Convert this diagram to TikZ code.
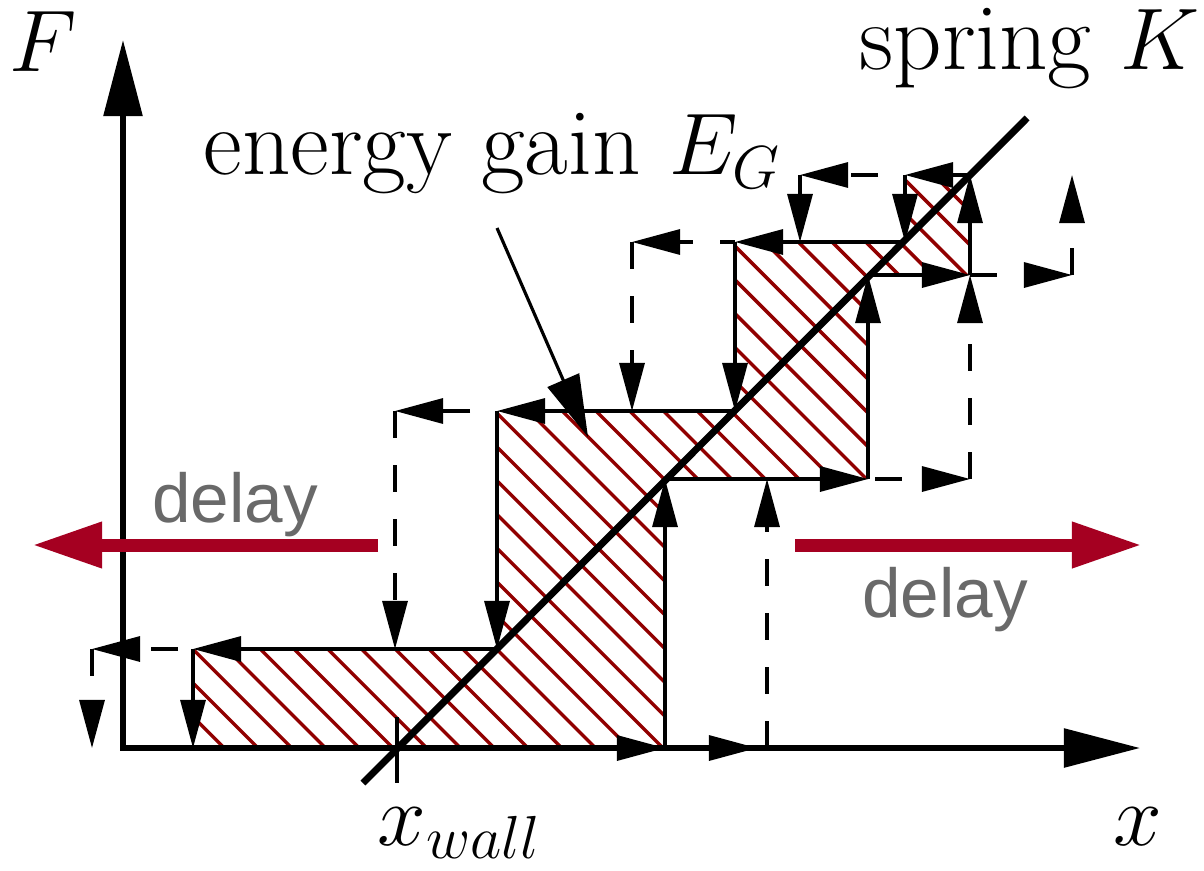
\documentclass[tikz,border=0pt]{standalone}
\usepackage{fontspec}
\newfontfamily\delayfont{Liberation Sans}
\usetikzlibrary{arrows.meta}
\definecolor{hatchred}{RGB}{145,0,0}
\definecolor{delayred}{RGB}{165,0,33}
\definecolor{delaygrey}{RGB}{105,105,105}
\tikzset{
  thinln/.style={line width=0.9pt, black},
  arr/.style={-{Triangle[length=4.8mm,width=2.5mm]}},
  dsh/.style={thinln, dash pattern=on 7.68pt off 7.68pt},
  axisln/.style={line width=1.6pt, black},
  springln/.style={line width=2pt, black},
  hatch/.style={line width=1pt, hatchred},
  delayarr/.style={line width=3.7pt, delayred, -{Triangle[length=7mm,width=4.3mm]}},
  lbl/.style={font=\fontsize{27}{32}\selectfont, inner sep=0pt},
  dlbl/.style={font=\delayfont\fontsize{19.7}{24}\selectfont, text=delaygrey, inner sep=0pt},
}
\begin{document}
\begin{tikzpicture}[x=0.01cm, y=-0.01cm]
\useasboundingbox (0,0) rectangle (1204,870);
% staircase corners
\coordinate (a0) at (193,748);
\coordinate (a1) at (193,649);
\coordinate (b1) at (497,649);
\coordinate (b2) at (497,411);
\coordinate (c2) at (735,411);
\coordinate (c3) at (735,242);
\coordinate (d3) at (905,242);
\coordinate (d4) at (905,175);
\coordinate (e4) at (970,175);
\coordinate (e3) at (970,275);
\coordinate (f3) at (868,275);
\coordinate (f2) at (868,479);
\coordinate (g2) at (665,479);
\coordinate (g0) at (665,748);
% hatching
\begin{scope}
\clip (a0) -- (a1) -- (b1) -- (b2) -- (c2) -- (c3) -- (d3) -- (d4) -- (e4) -- (e3) -- (f3) -- (f2) -- (g2) -- (g0) -- cycle;
\foreach \k in {-6,...,35} \draw[hatch] ({393+33.75*\k},748) -- ++(-700,-700);
\end{scope}
% solid cycle
\draw[thinln,arr] (a0) -- (g0);
\draw[thinln,arr] (g0) -- (g2);
\draw[thinln,arr] (g2) -- (f2);
\draw[thinln,arr] (f2) -- (f3);
\draw[thinln,arr] (f3) -- (e3);
\draw[thinln,arr] (e3) -- (e4);
\draw[thinln,arr] (e4) -- (d4);
\draw[thinln,arr] (d4) -- (d3);
\draw[thinln,arr] (d3) -- (c3);
\draw[thinln,arr] (c3) -- (c2);
\draw[thinln,arr] (c2) -- (b2);
\draw[thinln,arr] (b2) -- (b1);
\draw[thinln,arr] (b1) -- (a1);
\draw[thinln,arr] (a1) -- (a0);
% delayed path, forward (right)
\coordinate (p1) at (757,748);
\coordinate (p2) at (767,748);
\coordinate (p3) at (767,479);
\coordinate (p4) at (970,479);
\coordinate (p5) at (1072,275);
\coordinate (p6) at (1072,175);
\draw[thinln,arr] (g0) -- (p1);
\draw[dsh,arr] (p2) -- (p3);
\draw[dsh,arr,dash phase=13.37pt] (f2) -- (p4);
\draw[dsh,arr] (p4) -- (e3);
\draw[dsh,arr] (e3) -- (p5);
\draw[dsh,arr] (p5) -- (p6);
% delayed path, return (left)
\coordinate (q1) at (800,175);
\coordinate (q2) at (800,242);
\coordinate (q3) at (632,242);
\coordinate (q4) at (632,411);
\coordinate (q5) at (395,411);
\coordinate (q6) at (395,649);
\coordinate (q7) at (92,649);
\coordinate (q8) at (92,748);
\draw[dsh,arr,dash phase=7.68pt] (d4) -- (q1);
\draw[dsh,arr] (q1) -- (q2);
\draw[dsh,arr,dash phase=3.41pt] (c3) -- (q3);
\draw[dsh,arr] (q3) -- (q4);
\draw[dsh,arr,dash phase=7.68pt] (b2) -- (q5);
\draw[dsh,arr] (q5) -- (q6);
\draw[dsh,arr,dash phase=11.1pt] (a1) -- (q7);
\draw[dsh,arr] (q7) -- (q8);
% spring line
\coordinate (s1) at (363,783);
\coordinate (s2) at (1027,118);
\draw[springln] (s1) -- (s2);
% x_wall tick
\coordinate (t1) at (397,717);
\coordinate (t2) at (397,783);
\draw[thinln] (t1) -- (t2);
% axes
\coordinate (o) at (123,748);
\coordinate (ytip) at (123,40);
\coordinate (xtip) at (1140,748);
\draw[axisln,{Triangle[length=7.6mm,width=3.8mm]}-{Triangle[length=7.6mm,width=3.8mm]}] (ytip) -- (o) -- (xtip);
% delay arrows
\coordinate (dl1s) at (378,545);
\coordinate (dl1t) at (32,545);
\coordinate (dl2s) at (795,545);
\coordinate (dl2t) at (1142,545);
\draw[delayarr] (dl1s) -- (dl1t);
\draw[delayarr] (dl2s) -- (dl2t);
\node[dlbl, anchor=base] (d1) at (235,522) {delay};
\node[dlbl, anchor=base] (d2) at (945,617) {delay};
% labels
\node[lbl, anchor=base west] (eg) at (203,175) {energy gain $E_G$};
\node[lbl, anchor=base east] (sk) at (1200,70) {spring $K$};
\node[lbl, anchor=base] (Flab) at (43,72) {$F$};
\node[lbl, anchor=base] (xlab) at (1138,845) {$x$};
\node[lbl, anchor=base west] (xw) at (377,845) {$x_{wall}$};
% pointer
\coordinate (ptr) at (497,228);
\coordinate (ptrtip) at (588,437);
\draw[thinln,-{Triangle[length=6.2mm,width=3.4mm]}] (ptr) -- (ptrtip);
\end{tikzpicture}
\end{document}
